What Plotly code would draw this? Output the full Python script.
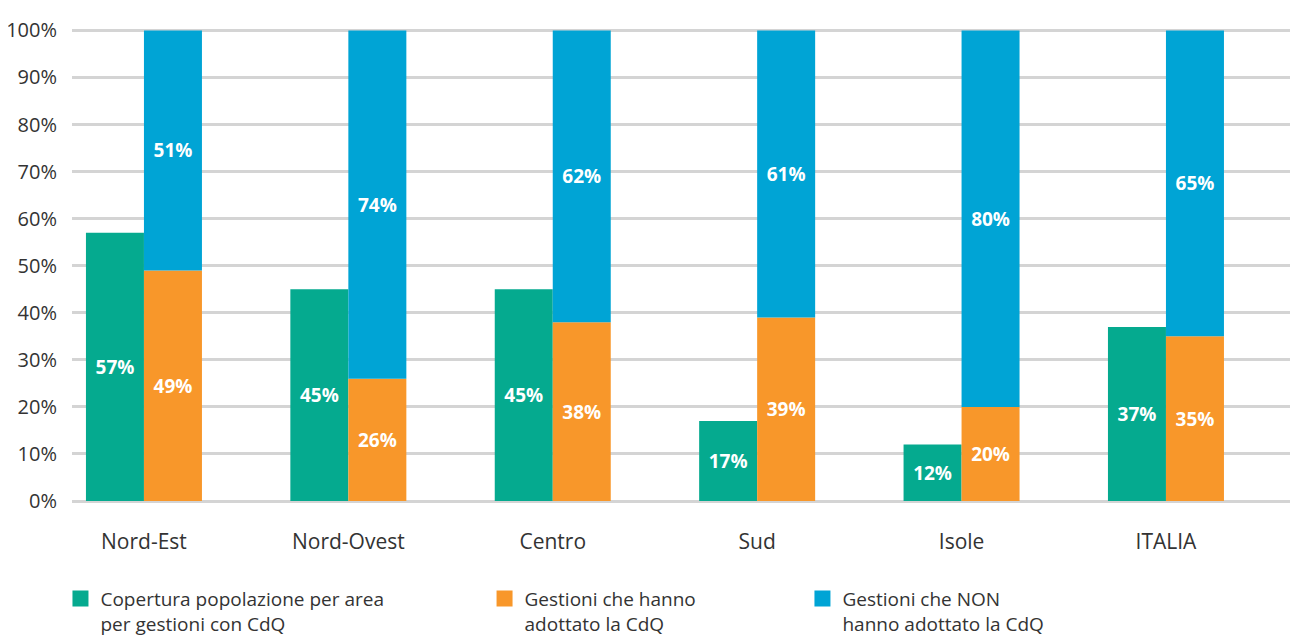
import plotly.graph_objects as go

categories = ["Nord-Est", "Nord-Ovest", "Centro", "Sud", "Isole", "ITALIA"]
copertura = [57, 45, 45, 17, 12, 37]
adottato = [49, 26, 38, 39, 20, 35]
non_adottato = [51, 74, 62, 61, 80, 65]
y_ticks = [0, 10, 20, 30, 40, 50, 60, 70, 80, 90, 100]

names = ["Copertura popolazione per area<br>per gestioni con CdQ",
         "Gestioni che hanno<br>adottato la CdQ",
         "Gestioni che NON<br>hanno adottato la CdQ"]
colors = ["#05AA8F", "#F8972A", "#00A4D5"]
FONT = "Open Sans"

fig = go.Figure()
lbl = dict(family=FONT, size=19, color="white", weight="bold")
fig.add_trace(go.Bar(x=categories, y=copertura, offsetgroup="a", marker_color=colors[0],
                     marker_line_width=0, text=[f"{v}%" for v in copertura],
                     textposition="inside", insidetextanchor="middle", textfont=lbl,
                     showlegend=False, hoverinfo="skip"))
fig.add_trace(go.Bar(x=categories, y=adottato, offsetgroup="b", marker_color=colors[1],
                     marker_line_width=0, text=[f"{v}%" for v in adottato],
                     textposition="inside", insidetextanchor="middle", textfont=lbl,
                     showlegend=False, hoverinfo="skip"))
fig.add_trace(go.Bar(x=categories, y=non_adottato, base=adottato, offsetgroup="b",
                     marker_color=colors[2], marker_line_width=0,
                     text=[f"{v}%" for v in non_adottato],
                     textposition="inside", insidetextanchor="middle", textfont=lbl,
                     showlegend=False, hoverinfo="skip"))

legend_ids = ["legend", "legend2", "legend3"]
for name, col, lid in zip(names, colors, legend_ids):
    fig.add_trace(go.Scatter(x=[None], y=[None], mode="markers", name=name,
                             marker=dict(symbol="square", size=16, color=col),
                             legend=lid, showlegend=True))

leg_common = dict(orientation="v", yanchor="top", y=-0.1667, xanchor="left",
                  font=dict(family=FONT, size=19, color="#333333"),
                  bgcolor="rgba(0,0,0,0)", itemsizing="trace", valign="top")

fig.update_layout(
    width=1290, height=629,
    margin=dict(l=64, r=0, t=21, b=136, autoexpand=False),
    plot_bgcolor="white", paper_bgcolor="white",
    barmode="group", bargap=0.4325, bargroupgap=0,
    font=dict(family=FONT, size=20, color="#333333"),
    xaxis=dict(type="category", range=[-0.352, 5.646], showgrid=False,
               ticks="outside", ticklen=22, tickcolor="rgba(0,0,0,0)",
               tickfont=dict(family=FONT, size=21, color="#333333"),
               showline=False, zeroline=False, automargin=False),
    yaxis=dict(range=[0, 100.3], tickvals=y_ticks, ticktext=[f"{v}%" for v in y_ticks],
               showgrid=True, gridcolor="#D4D4D4", gridwidth=2.5,
               zeroline=True, zerolinecolor="#D4D4D4", zerolinewidth=3,
               ticks="outside", ticklen=10, tickcolor="rgba(0,0,0,0)",
               tickfont=dict(family=FONT, size=20, color="#333333"),
               showline=False, automargin=False),
    legend=dict(x=-0.0094, **leg_common),
    legend2=dict(x=0.3365, **leg_common),
    legend3=dict(x=0.5958, **leg_common),
)

fig.write_html("out.html")
